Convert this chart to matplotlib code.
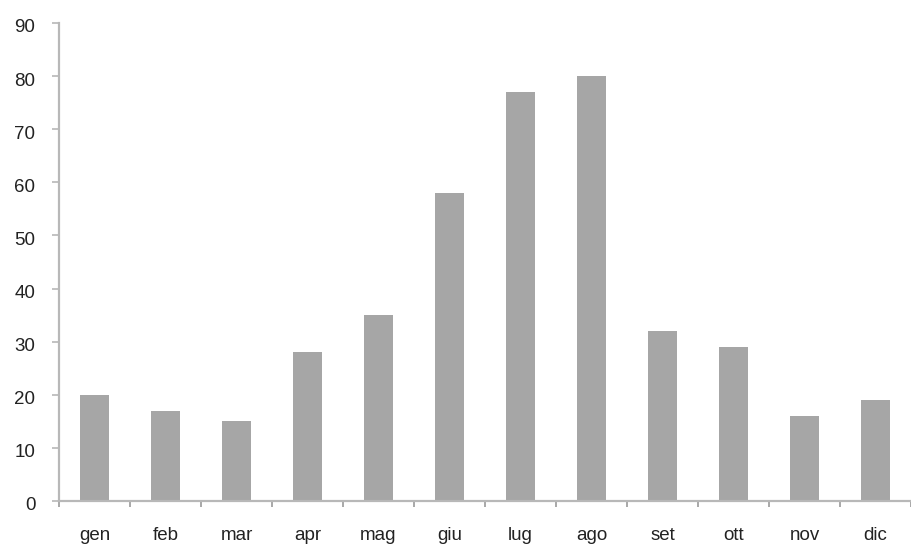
import numpy as np
import matplotlib
matplotlib.use("Agg")
import matplotlib.pyplot as plt
import matplotlib.transforms as mtransforms

months = ["gen", "feb", "mar", "apr", "mag", "giu", "lug", "ago", "set", "ott", "nov", "dic"]
values = [20, 17, 15, 28, 35, 58, 77, 80, 32, 29, 16, 19]

plt.rcParams['font.family'] = ['Liberation Sans', 'DejaVu Sans']

fig = plt.figure(figsize=(9.12, 5.46), dpi=100)
ax = fig.add_axes([59/912, 1 - 501/546, 852/912, 478/546])

x = np.arange(len(months))
ax.bar(x, values, width=0.42, color="#a6a6a6")

ax.set_xlim(-0.5, len(months) - 0.5)
ax.set_ylim(0, 90)
ax.set_yticks(np.arange(0, 91, 10))
ax.set_xticks(x)
ax.set_xticklabels(months)
ax.set_xticks(np.arange(-0.5, len(months)), minor=True)

axis_col = "#b8b8b8"
for s in ["top", "right"]:
    ax.spines[s].set_visible(False)
for s in ["left", "bottom"]:
    ax.spines[s].set_color(axis_col)
    ax.spines[s].set_linewidth(1.6)

ax.tick_params(axis="x", which="major", length=0, pad=19, labelsize=13.5, labelcolor="#222222")
ax.tick_params(axis="x", which="minor", length=4, width=1.2, color="#999999")
ax.tick_params(axis="y", length=5, width=1.2, color=axis_col, pad=12, labelsize=13.5, labelcolor="#222222")

# y labels sit a little below their ticks in the original
shift = mtransforms.ScaledTranslation(0, -3/100, fig.dpi_scale_trans)
for lab in ax.get_yticklabels():
    lab.set_transform(lab.get_transform() + shift)

fig.savefig("out.png", dpi=100)
